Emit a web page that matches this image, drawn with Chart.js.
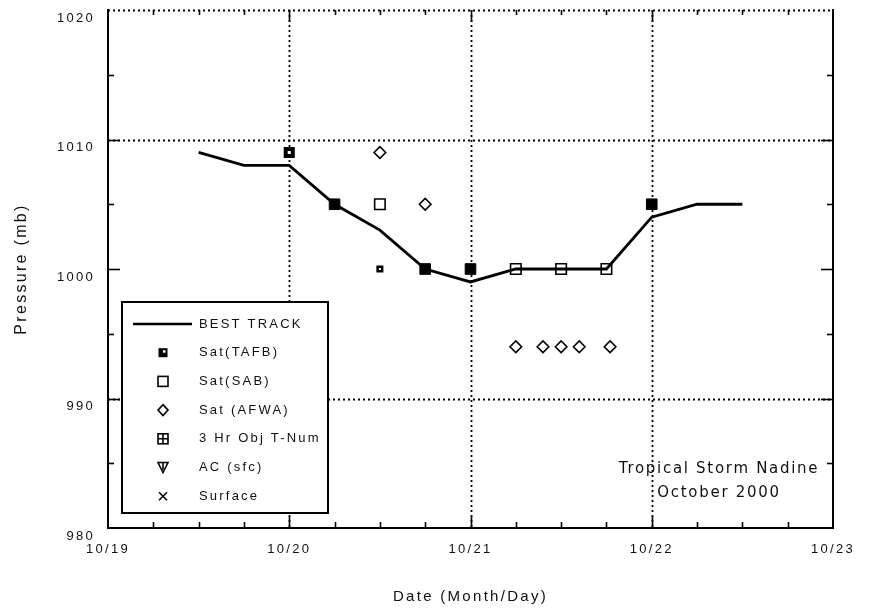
<!DOCTYPE html>
<html>
<head>
<meta charset="utf-8">
<script src="https://cdn.jsdelivr.net/npm/chart.js@4.4.0/dist/chart.umd.min.js"></script>
<style>
  html, body { margin: 0; padding: 0; background: #fff; }
  #wrap { width: 873px; height: 610px; }
</style>
</head>
<body>
<div id="wrap"><canvas id="chart" width="873" height="610"></canvas></div>
<script>
// time axis = days after 10/19 00Z
var dateLabels = ['10/19', '10/20', '10/21', '10/22', '10/23'];

var trackTime = [0.5, 0.75, 1, 1.25, 1.5, 1.75, 2, 2.25, 2.5, 2.75, 3, 3.25, 3.5];
var trackPres = [1009, 1008, 1008, 1005, 1003, 1000, 999, 1000, 1000, 1000, 1004, 1005, 1005];

var tafbTime = [1, 1.25, 1.5, 1.75, 2, 3];
var tafbPres = [1009, 1005, 1000, 1000, 1000, 1005];

var sabTime = [1.5, 2.25, 2.5, 2.75];
var sabPres = [1005, 1000, 1000, 1000];

var afwaTime = [1.5, 1.75, 2.25, 2.4, 2.5, 2.6, 2.77];
var afwaPres = [1009, 1005, 994, 994, 994, 994, 994];

var seriesNames = ['BEST TRACK', 'Sat(TAFB)', 'Sat(SAB)', 'Sat (AFWA)', '3 Hr Obj T-Num', 'AC (sfc)', 'Surface'];

function pts(t, p) {
    return t.map(function (v, i) { return { x: v, y: p[i] }; });
}

var FONT = 'Liberation Sans, Arial, sans-serif';

function spacing(chart) {
    chart.ctx.letterSpacing = '2.3px';
}

var framePlugin = {
    id: 'frame',
    beforeLayout: spacing,
    beforeDraw: spacing,
    beforeDatasetsDraw: function (chart) {
        var ctx = chart.ctx, a = chart.chartArea;
        var xs = chart.scales.x, ys = chart.scales.y;
        function seg(x1, y1, x2, y2) {
            ctx.beginPath(); ctx.moveTo(x1, y1); ctx.lineTo(x2, y2); ctx.stroke();
        }
        ctx.save();
        ctx.strokeStyle = '#000';
        // dotted grid
        ctx.lineWidth = 1.8;
        ctx.setLineDash([2, 3]);
        [1, 2, 3].forEach(function (d) {
            var px = Math.round(xs.getPixelForValue(d)) + 0.5;
            seg(px, a.top, px, a.bottom);
        });
        [990, 1010, 1020].forEach(function (p) {
            var py = Math.round(ys.getPixelForValue(p)) + 0.5;
            seg(a.left, py, a.right, py);
        });
        ctx.setLineDash([]);
        // solid frame
        ctx.lineWidth = 2;
        seg(a.left, a.top - 1, a.left, a.bottom + 1);
        seg(a.left - 1, a.bottom, a.right + 1, a.bottom);
        seg(a.right, a.top - 1, a.right, a.bottom + 1);
        // tick marks
        ctx.lineWidth = 1.6;
        for (var d = 0.25; d < 4; d += 0.25) {
            var px = Math.round(xs.getPixelForValue(d)) + 0.5;
            var major = Math.abs(d - Math.round(d)) < 1e-6;
            seg(px, a.bottom, px, a.bottom - (major ? 12 : 6));
            seg(px, a.top, px, a.top + (major ? 12 : 5));
        }
        for (var p = 985; p < 1020; p += 5) {
            var py = Math.round(ys.getPixelForValue(p)) + 0.5;
            var maj = p % 10 === 0;
            seg(a.left, py, a.left + (maj ? 12 : 6), py);
            seg(a.right, py, a.right - (maj ? 12 : 6), py);
        }
        ctx.restore();
    },
    afterDraw: function (chart) {
        var ctx = chart.ctx, a = chart.chartArea;
        ctx.save();
        // legend box
        var bx = a.left + 14, by = a.top + 292, bw = 206, bh = 211;
        ctx.fillStyle = '#fff';
        ctx.fillRect(bx, by, bw, bh);
        ctx.strokeStyle = '#000';
        ctx.lineWidth = 2;
        ctx.strokeRect(bx, by, bw, bh);
        ctx.letterSpacing = '2.2px';
        ctx.font = '13px ' + FONT;
        ctx.textBaseline = 'middle';
        ctx.textAlign = 'left';
        chart.data.datasets.forEach(function (ds, i) {
            var cy = by + 22 + i * 28.7, cx = bx + 41;
            ctx.fillStyle = '#111';
            ctx.fillText(ds.label, bx + 77, cy);
            ctx.strokeStyle = '#000';
            ctx.fillStyle = '#000';
            ctx.lineWidth = 1.6;
            ctx.beginPath();
            switch (ds.legendSymbol) {
                case 'line':
                    ctx.lineWidth = 2.5;
                    ctx.moveTo(bx + 11, cy); ctx.lineTo(bx + 70, cy); ctx.stroke();
                    break;
                case 'fill':
                    ctx.fillRect(cx - 4.5, cy - 4.5, 9, 9);
                    ctx.fillStyle = '#fff';
                    ctx.fillRect(cx, cy - 2.5, 2.5, 2.5);
                    break;
                case 'open':
                    ctx.strokeRect(cx - 5, cy - 5, 10, 10);
                    break;
                case 'diamond':
                    ctx.moveTo(cx, cy - 5.5); ctx.lineTo(cx + 5, cy);
                    ctx.lineTo(cx, cy + 5.5); ctx.lineTo(cx - 5, cy);
                    ctx.closePath(); ctx.stroke();
                    break;
                case 'crossbox':
                    ctx.strokeRect(cx - 5, cy - 5, 10, 10);
                    ctx.moveTo(cx, cy - 5); ctx.lineTo(cx, cy + 5);
                    ctx.moveTo(cx - 5, cy); ctx.lineTo(cx + 5, cy);
                    ctx.stroke();
                    break;
                case 'tridown':
                    ctx.moveTo(cx - 5, cy - 5); ctx.lineTo(cx + 5, cy - 5);
                    ctx.lineTo(cx, cy + 5); ctx.closePath();
                    ctx.moveTo(cx, cy - 5); ctx.lineTo(cx, cy + 2);
                    ctx.stroke();
                    break;
                case 'x':
                    ctx.moveTo(cx - 4, cy - 4); ctx.lineTo(cx + 4, cy + 4);
                    ctx.moveTo(cx + 4, cy - 4); ctx.lineTo(cx - 4, cy + 4);
                    ctx.stroke();
                    break;
            }
        });
        // storm caption
        ctx.font = '15px DejaVu Sans, sans-serif';
        ctx.letterSpacing = '1.7px';
        ctx.textAlign = 'center';
        ctx.fillStyle = '#111';
        ctx.fillText('Tropical Storm Nadine', a.right - 114, a.top + 459);
        ctx.fillText('October 2000', a.right - 114, a.top + 483);
        ctx.restore();
    }
};

window.onload = function () {
    var ctx = document.getElementById('chart').getContext('2d');
    var chart = new Chart(ctx, {
        type: 'scatter',
        data: {
            datasets: [{
                label: seriesNames[0],
                legendSymbol: 'line',
                data: pts(trackTime, trackPres),
                showLine: true,
                borderColor: '#000',
                borderWidth: 2.8,
                pointRadius: 0,
                tension: 0,
                order: 1
            }, {
                label: seriesNames[1],
                legendSymbol: 'fill',
                data: pts(tafbTime, tafbPres),
                pointStyle: 'rect',
                pointRadius: [5, 7.5, 3.2, 7.5, 7.5, 7.5],
                backgroundColor: ['#fff', '#000', '#fff', '#000', '#000', '#000'],
                borderColor: '#000',
                borderWidth: [4, 1, 2.5, 1, 1, 1]
            }, {
                label: seriesNames[2],
                legendSymbol: 'open',
                data: pts(sabTime, sabPres),
                pointStyle: 'rect',
                pointRadius: 7.4,
                backgroundColor: 'rgba(0,0,0,0)',
                borderColor: '#000',
                borderWidth: 1.6
            }, {
                label: seriesNames[3],
                legendSymbol: 'diamond',
                data: pts(afwaTime, afwaPres),
                pointStyle: 'rectRot',
                pointRadius: 5.8,
                backgroundColor: '#fff',
                borderColor: '#000',
                borderWidth: 1.6
            }, {
                label: seriesNames[4],
                legendSymbol: 'crossbox',
                data: []
            }, {
                label: seriesNames[5],
                legendSymbol: 'tridown',
                data: []
            }, {
                label: seriesNames[6],
                legendSymbol: 'x',
                data: []
            }]
        },
        options: {
            responsive: false,
            animation: false,
            layout: { padding: { top: 10, right: 40, left: 0, bottom: 0 } },
            plugins: {
                legend: { display: false },
                tooltip: { enabled: false }
            },
            scales: {
                x: {
                    type: 'linear',
                    min: 0,
                    max: 4,
                    grid: { display: false, drawTicks: false },
                    border: { display: false },
                    ticks: {
                        stepSize: 1,
                        autoSkip: false,
                        maxRotation: 0,
                        padding: 14,
                        color: '#111',
                        font: { family: FONT, size: 13 },
                        callback: function (v) { return dateLabels[Math.round(v)]; }
                    },
                    title: {
                        display: true,
                        text: 'Date (Month/Day)',
                        color: '#111',
                        font: { family: FONT, size: 15 },
                        padding: { top: 0, bottom: 4 }
                    },
                    afterFit: function (s) { s.height = 82; }
                },
                y: {
                    min: 980,
                    max: 1020,
                    grid: { display: false, drawTicks: false },
                    border: { display: false },
                    ticks: {
                        stepSize: 10,
                        padding: 13,
                        labelOffset: 8,
                        color: '#111',
                        font: { family: FONT, size: 13 },
                        callback: function (v) { return String(v); }
                    },
                    title: {
                        display: true,
                        text: 'Pressure (mb)',
                        color: '#111',
                        font: { family: FONT, size: 16 },
                        padding: { top: 12, bottom: 0 }
                    },
                    afterFit: function (s) {
                        s.width = 108;
                        s.paddingTop = 0;
                        s.paddingBottom = 0;
                    }
                }
            }
        },
        plugins: [framePlugin]
    });
};
</script>
</body>
</html>
